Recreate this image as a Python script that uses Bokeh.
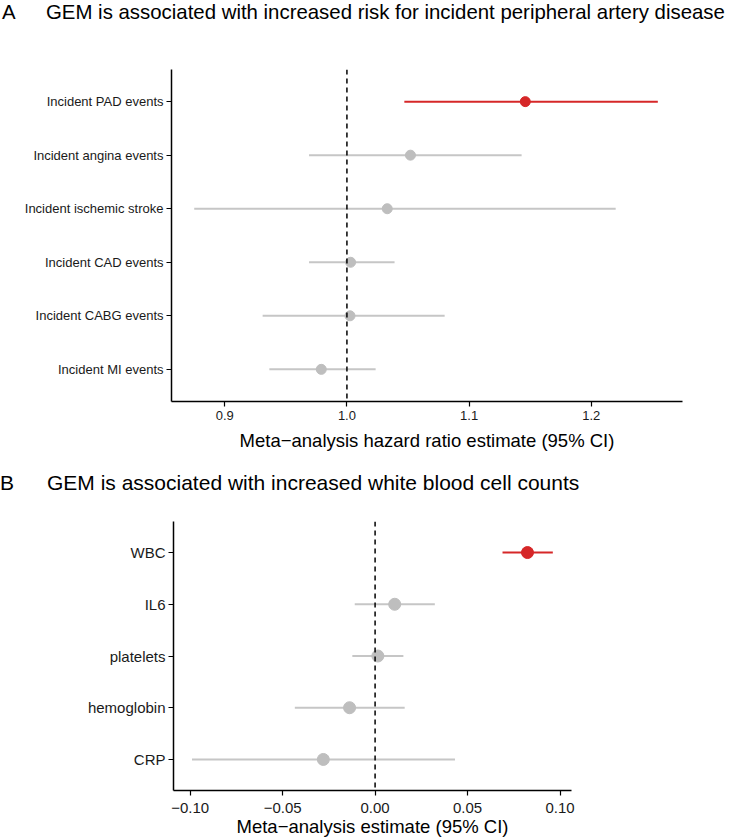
from bokeh.plotting import figure
from bokeh.models import Span, FactorRange, Range1d, FixedTicker, ColumnDataSource, Div
from bokeh.embed import file_html
from bokeh.resources import INLINE

# ---------------- data ----------------
a_letter = "A"
a_title = "GEM is associated with increased risk for incident peripheral artery disease"
a_outcomes = ["Incident PAD events", "Incident angina events", "Incident ischemic stroke",
              "Incident CAD events", "Incident CABG events", "Incident MI events"]
a_est = [1.146, 1.052, 1.033, 1.003, 1.0025, 0.979]
a_lo = [1.047, 0.969, 0.875, 0.969, 0.931, 0.9365]
a_hi = [1.2545, 1.143, 1.220, 1.039, 1.080, 1.0235]
a_highlight = ["Incident PAD events"]
a_ticks = [0.9, 1.0, 1.1, 1.2]
a_tick_labels = ["0.9", "1.0", "1.1", "1.2"]
a_xlabel = "Meta\u2212analysis hazard ratio estimate (95% CI)"
a_ref = 1.0

b_letter = "B"
b_title = "GEM is associated with increased white blood cell counts"
b_outcomes = ["WBC", "IL6", "platelets", "hemoglobin", "CRP"]
b_est = [0.0824, 0.0106, 0.0015, -0.0138, -0.028]
b_lo = [0.0689, -0.011, -0.0123, -0.0434, -0.099]
b_hi = [0.0961, 0.0323, 0.0153, 0.016, 0.0432]
b_highlight = ["WBC"]
b_ticks = [-0.10, -0.05, 0.0, 0.05, 0.10]
b_tick_labels = ["\u22120.10", "\u22120.05", "0.00", "0.05", "0.10"]
b_xlabel = "Meta\u2212analysis estimate (95% CI)"
b_ref = 0.0

RED = "#D62728"
GREY_PT = "#BEBEBE"
GREY_LN = "#C6C6C6"
FONT = "Liberation Sans"


def title_div(letter, title, height, top, letter_x, title_x, fsize):
    span = ("position:absolute;top:{t}px;left:{l}px;line-height:22px;white-space:nowrap;"
            "font-family:'Liberation Sans',Arial,sans-serif;font-size:{f}px;color:black;")
    html = ('<div style="position:relative;width:743px;height:{h}px;">'
            '<span style="{s1}">{a}</span><span style="{s2}">{b}</span></div>').format(
        h=height, s1=span.format(t=top, l=letter_x, f=fsize),
        s2=span.format(t=top, l=title_x, f=fsize), a=letter, b=title)
    return Div(text=html, width=743, height=height, margin=(0, 0, 0, 0))


def make_panel(outcomes, est, lo, hi, highlight, ticks, tick_labels, xlabel, ref,
               xr, width, height, b_left, b_right, b_top, b_bottom, fs,
               pt_size, tick_stand, lab_stand):
    src = ColumnDataSource(dict(
        cat=outcomes, est=est, lo=lo, hi=hi,
        pc=[RED if o in highlight else GREY_PT for o in outcomes],
        lc=[RED if o in highlight else GREY_LN for o in outcomes],
    ))
    p = figure(width=width, height=height,
               y_range=FactorRange(factors=outcomes[::-1], range_padding=0.1,
                                   range_padding_units="absolute"),
               x_range=Range1d(*xr),
               output_backend="svg", toolbar_location=None,
               min_border_left=b_left, min_border_right=b_right,
               min_border_top=b_top, min_border_bottom=b_bottom)
    p.xgrid.visible = False
    p.ygrid.visible = False
    p.outline_line_color = None
    p.background_fill_color = "white"
    p.border_fill_color = "white"

    p.add_layout(Span(location=ref, dimension="height", line_color="black",
                      line_width=1.5, line_dash="5 4"))
    p.segment(x0="lo", y0="cat", x1="hi", y1="cat", line_color="lc",
              line_width=2, source=src)
    p.scatter(x="est", y="cat", size=pt_size, fill_color="pc", line_color="pc", source=src)

    p.xaxis.ticker = FixedTicker(ticks=ticks)
    p.xaxis.major_label_overrides = {t: l for t, l in zip(ticks, tick_labels)}
    p.xaxis.axis_label = xlabel
    p.xaxis.axis_label_text_font = FONT
    p.xaxis.axis_label_text_font_style = "normal"
    p.xaxis.axis_label_text_font_size = "18.5px"
    p.xaxis.axis_label_text_color = "black"
    p.xaxis.axis_label_standoff = lab_stand
    p.xaxis.major_label_standoff = tick_stand
    for ax in (p.xaxis, p.yaxis):
        ax.axis_line_color = "black"
        ax.axis_line_width = 1.5
        ax.major_tick_line_color = "black"
        ax.major_tick_line_width = 1.2
        ax.major_tick_out = 5
        ax.major_tick_in = 0
        ax.minor_tick_line_color = None
        ax.major_label_text_font = FONT
        ax.major_label_text_font_size = fs
        ax.major_label_text_color = "#1a1a1a"
    p.yaxis.major_label_standoff = 3
    return p


dA = title_div(a_letter, a_title, 28, 1, 2, 46, 20.4)
pA = make_panel(a_outcomes, a_est, a_lo, a_hi, a_highlight, a_ticks, a_tick_labels,
                a_xlabel, a_ref, (0.8564, 1.2747), 743, 434, 171, 61, 41, 61, "13px",
                10, 4, 7)
dB = title_div(b_letter, b_title, 40, 10, 0, 47, 21)
pB = make_panel(b_outcomes, b_est, b_lo, b_hi, b_highlight, b_ticks, b_tick_labels,
                b_xlabel, b_ref, (-0.109, 0.1062), 743, 337, 173, 172, 19, 46, "15px",
                12, 7, 0)

open("out.html", "w").write(file_html([dA, pA, dB, pB], INLINE))
